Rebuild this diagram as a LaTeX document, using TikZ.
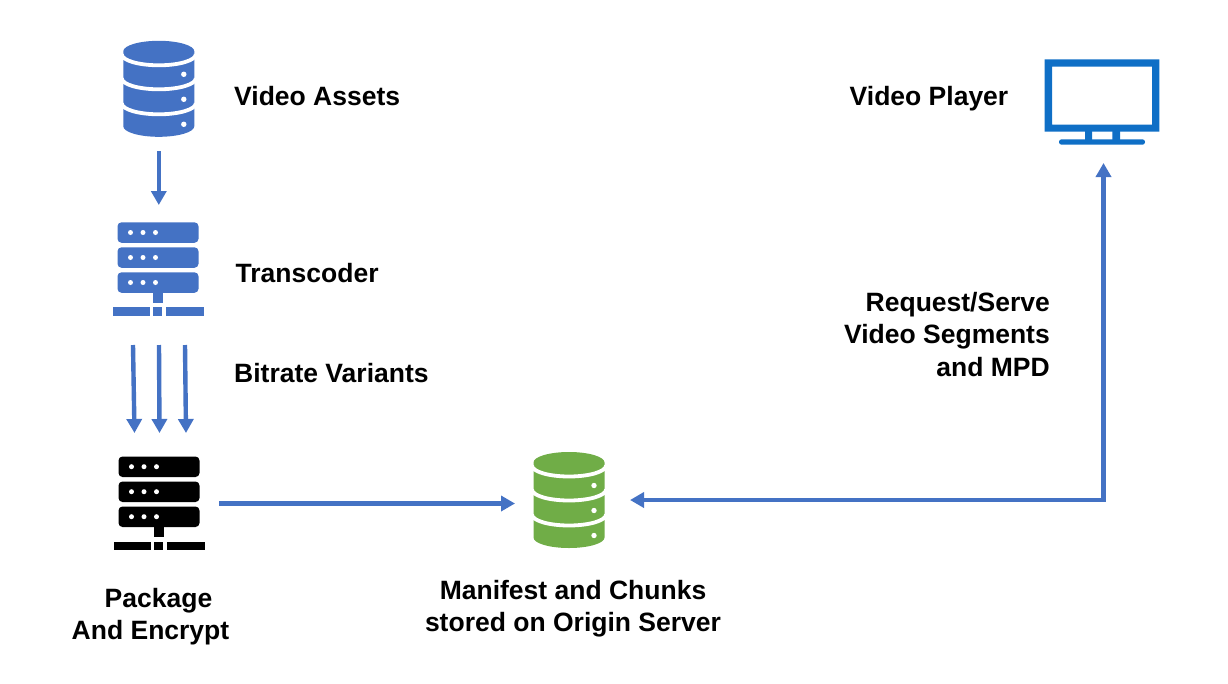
\documentclass[tikz,border=0pt]{standalone}
\usepackage{fontspec}
\setmainfont{Liberation Sans}
\usetikzlibrary{arrows.meta}
\definecolor{iconblue}{HTML}{4472C4}
\definecolor{icongreen}{HTML}{70AD47}
\definecolor{screenblue}{HTML}{0F6FC6}
\tikzset{
  x=1pt,y=-1pt,
  link/.style={draw=iconblue,line width=4.4pt,-{Triangle[length=14pt,width=15pt]}},
  label/.style={font=\fontsize{26.5}{32.5}\selectfont\bfseries,text=black,inner sep=0pt},
  iconbox/.style={inner sep=0pt,outer sep=0pt,draw=none,fill=none},
  pics/database/.style={code={
    \fill[#1] (-35.5,0) arc[start angle=180,end angle=360,x radius=35.5,y radius=10.5]
      -- (35.5,75) arc[start angle=0,end angle=180,x radius=35.5,y radius=10.5] -- cycle;
    \foreach \s in {3,27,52}{
      \draw[white,line width=3.8pt] (-37,\s) arc[start angle=180,end angle=0,x radius=37,y radius=11];
    }
    \foreach \s in {23,48,73}{ \fill[white] (25,\s) circle[radius=2.7]; }
  }},
  pics/server/.style={code={
    \foreach \t in {0,25,50}{
      \fill[#1,rounded corners=4pt] (-40.5,\t) rectangle (40.5,\t+20.5);
      \foreach \dx in {-27.5,-15,-2.5}{ \fill[white] (\dx,\t+10.2) circle[radius=2.5]; }
    }
    \fill[#1] (-5,70) rectangle (4.5,80.5);
    \fill[#1] (-45.5,85) rectangle (-8.5,93.5);
    \fill[#1] (-5,85) rectangle (4,93.5);
    \fill[#1] (8,85) rectangle (45.5,93.5);
  }}
}
\begin{document}
\begin{tikzpicture}
\useasboundingbox (0,0) rectangle (1228,683);
% icons
\node[iconbox,minimum width=71pt,minimum height=96pt] (assets) at (158.8,88.7) {};
\pic at (158.8,51.3) {database=iconblue};
\node[iconbox,minimum width=91pt,minimum height=94pt] (transcoder) at (158,269) {};
\pic at (158,222.3) {server=iconblue};
\node[iconbox,minimum width=91pt,minimum height=93pt] (packager) at (159,503) {};
\pic at (159,456.5) {server=black};
\node[iconbox,minimum width=71pt,minimum height=94pt] (origin) at (569,499.7) {};
\pic at (569,462.5) {database=icongreen};
\node[iconbox,minimum width=115pt,minimum height=85pt] (player) at (1102,102) {};
\fill[screenblue,even odd rule] (1044.7,59.3) rectangle (1159.3,131.7) (1052,66.7) rectangle (1152,124.7);
\fill[screenblue] (1085,131) rectangle (1092,141) (1112.3,131) rectangle (1120,141);
\fill[screenblue,rounded corners=2.5pt] (1059,139.3) rectangle (1145,144.7);
% connector end points
\coordinate (a1) at (158.8,151);
\coordinate (a2) at (158.8,205);
\coordinate (b1s) at (133,345); \coordinate (b1e) at (134.5,433);
\coordinate (b2s) at (159,345); \coordinate (b2e) at (159.5,433);
\coordinate (b3s) at (185,345); \coordinate (b3e) at (186,433);
\coordinate (c1) at (219,503.5);
\coordinate (c2) at (515,503.5);
\coordinate (d1) at (630,500);
\coordinate (d2) at (1103.5,500);
\coordinate (d3) at (1103.5,163);
% connectors
\path[link] (a1) -- (a2);
\path[link] (b1s) -- (b1e);
\path[link] (b2s) -- (b2e);
\path[link] (b3s) -- (b3e);
\path[link] (c1) -- (c2);
\draw[draw=iconblue,line width=4.4pt,{Triangle[length=14pt,width=15pt]}-{Triangle[length=14pt,width=15pt]}] (d1) -- (d2) -- (d3);
% labels
\node[label,anchor=base west] (tassets) at (234,105) {Video Assets};
\node[label,anchor=base west] (ttrans) at (235.5,282) {Transcoder};
\node[label,anchor=base west] (tvar) at (234,382) {Bitrate Variants};
\node[label,anchor=base west] (tplayer) at (849.5,105) {Video Player};
\node[label,align=right,anchor=north east] (treq) at (1050,292) {Request/Serve\\Video Segments\\and MPD};
\node[label,align=center,anchor=north] (tmanifest) at (573,580) {Manifest and Chunks\\stored on Origin Server};
\node[label,align=center,anchor=north] (tpack) at (150.5,588) {\hspace*{16pt}Package\\And Encrypt};
\end{tikzpicture}
\end{document}
